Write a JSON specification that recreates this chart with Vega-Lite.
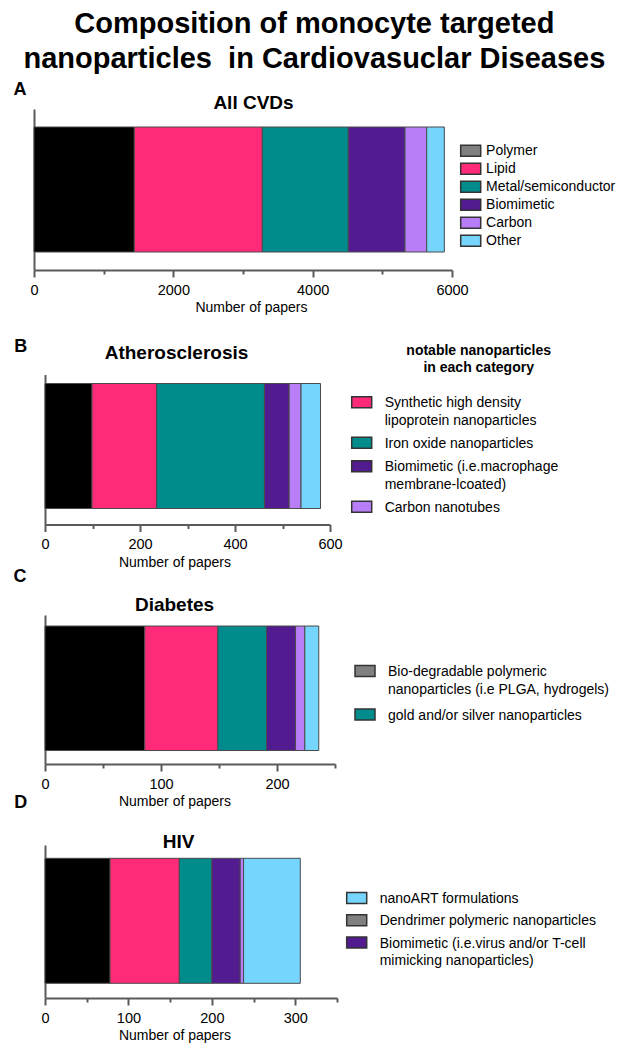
{
  "$schema": "https://vega.github.io/schema/vega-lite/v6.json",
  "padding": {"left": 13, "top": 10, "right": 5, "bottom": 5},
  "title": {
    "text": ["Composition of monocyte targeted", "nanoparticles\u00a0 in Cardiovasuclar Diseases"],
    "fontSize": 29, "fontWeight": "bold", "font": "Liberation Sans", "color": "#000000",
    "lineHeight": 35, "anchor": "middle", "offset": -17, "baseline": "alphabetic"
  },
  "columns": 1,
  "align": "none",
  "spacing": 21.5,
  "resolve": {"scale": {"color": "independent", "x": "independent", "y": "independent"}, "legend": {"color": "independent"}},
  "concat": [
    {
      "width": 418, "height": 161,
      "data": {"values": [
        {"disease": "All CVDs", "category": "Polymer", "papers": 1440, "ord": 1},
        {"disease": "All CVDs", "category": "Lipid", "papers": 1837, "ord": 2},
        {"disease": "All CVDs", "category": "Metal/semiconductor", "papers": 1235, "ord": 3},
        {"disease": "All CVDs", "category": "Biomimetic", "papers": 813, "ord": 4},
        {"disease": "All CVDs", "category": "Carbon", "papers": 312, "ord": 5},
        {"disease": "All CVDs", "category": "Other", "papers": 253, "ord": 6}
      ]},
      "resolve": {"axis": {"x": "independent"}},
      "layer": [
        {
          "mark": {"type": "bar", "stroke": "#4a4a4a", "strokeWidth": 1},
          "encoding": {
            "y": {"field": "disease", "type": "nominal",
                  "scale": {"paddingInner": 0, "paddingOuter": 0.144, "align": 0.5},
                  "axis": {"title": "A", "titleX": -21, "titleY": -15, "offset": 11}},
            "x": {"field": "papers", "type": "quantitative", "stack": "zero",
                  "scale": {"domain": [0, 6000], "nice": false, "range": [-11, 407]},
                  "axis": {"orient": "bottom", "title": "Number of papers",
                           "values": [0, 1000, 2000, 3000, 4000, 5000, 6000],
                           "labelExpr": "datum.value % 2000 === 0 ? format(datum.value, 'd') : ''",
                           "tickSize": {"condition": {"test": "datum.value % 2000 !== 0", "value": 4}, "value": 7},
                           "titleX": 206, "titleY": 41.5}},
            "color": {"condition": {"test": "datum.category === 'Polymer'", "value": "#000000"},
                      "field": "category", "type": "nominal",
                      "scale": {"domain": ["Polymer", "Lipid", "Metal/semiconductor", "Biomimetic", "Carbon", "Other"],
                                "range": ["#808080", "#FF2B79", "#008C8C", "#521B8F", "#B87EF8", "#76D5FC"]},
                      "legend": {"orient": "none", "legendX": 417.7, "legendY": 33.7, "title": null,
                                 "values": ["Polymer", "Lipid", "Metal/semiconductor", "Biomimetic", "Carbon", "Other"],
                                 "symbolType": "M-1.379,-0.759H1.379V0.759H-1.379Z", "symbolSize": 210.25,
                                 "labelOffset": 7.4, "rowPadding": 0}},
            "order": {"field": "ord", "type": "quantitative"}
          }
        },
        {
          "mark": {"type": "rule", "strokeOpacity": 0},
          "encoding": {
            "x": {"datum": 0, "type": "quantitative",
                  "axis": {"orient": "top", "title": "All CVDs", "labels": false, "ticks": false, "domain": false,
                           "titleX": 208, "titleY": -1, "titleFontSize": 19, "titleFontWeight": "bold",
                           "titleBaseline": "alphabetic", "titleAlign": "center"}}
          }
        }
      ]
    },
    {
      "columns": 1,
      "align": "none",
      "spacing": -2.5,
      "resolve": {"scale": {"color": "independent", "x": "independent", "y": "independent"}, "legend": {"color": "independent"}},
      "concat": [
        {
          "width": 285, "height": 150,
          "data": {"values": [
            {"disease": "Atherosclerosis", "category": "Polymer", "papers": 99, "ord": 1},
            {"disease": "Atherosclerosis", "category": "Lipid", "papers": 136, "ord": 2},
            {"disease": "Atherosclerosis", "category": "Metal/semiconductor", "papers": 227, "ord": 3},
            {"disease": "Atherosclerosis", "category": "Biomimetic", "papers": 52, "ord": 4},
            {"disease": "Atherosclerosis", "category": "Carbon", "papers": 25, "ord": 5},
            {"disease": "Atherosclerosis", "category": "Other", "papers": 41, "ord": 6}
          ]},
          "resolve": {"axis": {"x": "independent"}},
          "layer": [
            {
              "mark": {"type": "bar", "stroke": "#4a4a4a", "strokeWidth": 1},
              "encoding": {
                "y": {"field": "disease", "type": "nominal",
                      "scale": {"paddingInner": 0, "paddingOuter": 0.1, "align": 0.36},
                      "axis": {"title": "B", "titleX": -31.3, "titleY": -23.5}},
                "x": {"field": "papers", "type": "quantitative", "stack": "zero",
                      "scale": {"domain": [0, 600], "nice": false},
                      "axis": {"orient": "bottom", "title": "Number of papers",
                               "values": [0, 100, 200, 300, 400, 500, 600],
                               "labelExpr": "datum.value % 200 === 0 ? format(datum.value, 'd') : ''",
                               "tickSize": {"condition": {"test": "datum.value % 200 !== 0", "value": 4}, "value": 7},
                               "titleX": 129.5, "titleY": 41.5}},
                "color": {"condition": {"test": "datum.category === 'Polymer'", "value": "#000000"},
                          "field": "category", "type": "nominal",
                          "scale": {"domain": ["Polymer", "Lipid", "Metal/semiconductor", "Biomimetic", "Carbon", "Other"],
                                    "range": ["#808080", "#FF2B79", "#008C8C", "#521B8F", "#B87EF8", "#76D5FC"]},
                          "legend": {"orient": "none", "legendX": 305.7, "legendY": -30.8,
                                     "title": ["notable nanoparticles", "in each category"],
                                     "titleFontSize": 14, "titleFontWeight": "bold", "titleColor": "#000000",
                                     "titleLineHeight": 17.6, "titleAnchor": "middle", "titleAlign": "center", "titlePadding": 16,
                                     "values": ["Lipid", "Metal/semiconductor", "Biomimetic", "Carbon"],
                                     "labelExpr": "datum.value === 'Lipid' ? ['Synthetic high density', 'lipoprotein nanoparticles'] : datum.value === 'Metal/semiconductor' ? 'Iron oxide nanoparticles' : datum.value === 'Biomimetic' ? ['Biomimetic (i.e.macrophage', 'membrane-lcoated)'] : 'Carbon nanotubes'",
                                     "labelBaseline": "top", "labelOffset": 12, "rowPadding": 3.5,
                                     "encode": {"labels": {"update": {"dy": {"value": -6}, "lineHeight": {"value": 17.5}}},
                                                "title": {"update": {"dx": {"value": 24}}}}}},
                "order": {"field": "ord", "type": "quantitative"}
              }
            },
            {
              "mark": {"type": "rule", "strokeOpacity": 0},
              "encoding": {
                "x": {"datum": 0, "type": "quantitative",
                      "axis": {"orient": "top", "title": "Atherosclerosis", "labels": false, "ticks": false, "domain": false,
                               "titleX": 131, "titleY": -16, "titleFontSize": 19, "titleFontWeight": "bold",
                               "titleBaseline": "alphabetic", "titleAlign": "center"}}
              }
            }
          ]
        },
        {
          "columns": 1,
          "align": "none",
          "spacing": -16,
          "resolve": {"scale": {"color": "independent", "x": "independent", "y": "independent"}, "legend": {"color": "independent"}},
          "concat": [
            {
              "width": 290, "height": 149,
              "data": {"values": [
                {"disease": "Diabetes", "category": "Polymer", "papers": 86, "ord": 1},
                {"disease": "Diabetes", "category": "Lipid", "papers": 63, "ord": 2},
                {"disease": "Diabetes", "category": "Metal/semiconductor", "papers": 42, "ord": 3},
                {"disease": "Diabetes", "category": "Biomimetic", "papers": 25, "ord": 4},
                {"disease": "Diabetes", "category": "Carbon", "papers": 8, "ord": 5},
                {"disease": "Diabetes", "category": "Other", "papers": 12, "ord": 6}
              ]},
              "resolve": {"axis": {"x": "independent"}},
              "layer": [
                {
                  "mark": {"type": "bar", "stroke": "#4a4a4a", "strokeWidth": 1},
                  "encoding": {
                    "y": {"field": "disease", "type": "nominal",
                          "scale": {"paddingInner": 0, "paddingOuter": 0.0984, "align": 0.45},
                          "axis": {"title": "C", "titleX": -32, "titleY": -33.2}},
                    "x": {"field": "papers", "type": "quantitative", "stack": "zero",
                          "scale": {"domain": [0, 250], "nice": false},
                          "axis": {"orient": "bottom", "title": "Number of papers",
                                   "values": [0, 50, 100, 150, 200, 250],
                                   "labelExpr": "datum.value % 100 === 0 ? format(datum.value, 'd') : ''",
                                   "tickSize": {"condition": {"test": "datum.value % 100 !== 0", "value": 4}, "value": 7},
                                   "titleX": 129.5, "titleY": 41.5}},
                    "color": {"condition": {"test": "datum.category === 'Polymer'", "value": "#000000"},
                              "field": "category", "type": "nominal",
                              "scale": {"domain": ["Polymer", "Lipid", "Metal/semiconductor", "Biomimetic", "Carbon", "Other"],
                                        "range": ["#808080", "#FF2B79", "#008C8C", "#521B8F", "#B87EF8", "#76D5FC"]},
                              "legend": {"orient": "none", "legendX": 309, "legendY": 45, "title": null,
                                         "values": ["Polymer", "Metal/semiconductor"],
                                         "labelExpr": "datum.value === 'Polymer' ? ['Bio-degradable polymeric', 'nanoparticles (i.e PLGA, hydrogels)'] : 'gold and/or silver nanoparticles'",
                                         "labelBaseline": "top", "labelOffset": 12, "rowPadding": 6.5,
                                         "encode": {"labels": {"update": {"dy": {"value": -6}, "lineHeight": {"value": 17.5}}}}}},
                    "order": {"field": "ord", "type": "quantitative"}
                  }
                },
                {
                  "mark": {"type": "rule", "strokeOpacity": 0},
                  "encoding": {
                    "x": {"datum": 0, "type": "quantitative",
                          "axis": {"orient": "top", "title": "Diabetes", "labels": false, "ticks": false, "domain": false,
                                   "titleX": 129, "titleY": -5, "titleFontSize": 19, "titleFontWeight": "bold",
                                   "titleBaseline": "alphabetic", "titleAlign": "center"}}
                  }
                }
              ]
            },
            {
              "width": 292, "height": 153,
              "data": {"values": [
                {"disease": "HIV", "category": "Polymer", "papers": 78, "ord": 1},
                {"disease": "HIV", "category": "Lipid", "papers": 83, "ord": 2},
                {"disease": "HIV", "category": "Metal/semiconductor", "papers": 39, "ord": 3},
                {"disease": "HIV", "category": "Biomimetic", "papers": 34, "ord": 4},
                {"disease": "HIV", "category": "Carbon", "papers": 4, "ord": 5},
                {"disease": "HIV", "category": "Other", "papers": 68, "ord": 6}
              ]},
              "resolve": {"axis": {"x": "independent"}},
              "layer": [
                {
                  "mark": {"type": "bar", "stroke": "#4a4a4a", "strokeWidth": 1},
                  "encoding": {
                    "y": {"field": "disease", "type": "nominal",
                          "scale": {"paddingInner": 0, "paddingOuter": 0.112, "align": 0.475},
                          "axis": {"title": "D", "titleX": -31.3, "titleY": -37.5}},
                    "x": {"field": "papers", "type": "quantitative", "stack": "zero",
                          "scale": {"domain": [0, 350], "nice": false},
                          "axis": {"orient": "bottom", "title": "Number of papers",
                                   "values": [0, 50, 100, 150, 200, 250, 300, 350],
                                   "labelExpr": "datum.value % 100 === 0 ? format(datum.value, 'd') : ''",
                                   "tickSize": {"condition": {"test": "datum.value % 100 !== 0", "value": 4}, "value": 7},
                                   "titleX": 129.5, "titleY": 41.5}},
                    "color": {"condition": {"test": "datum.category === 'Polymer'", "value": "#000000"},
                              "field": "category", "type": "nominal",
                              "scale": {"domain": ["Polymer", "Lipid", "Metal/semiconductor", "Biomimetic", "Carbon", "Other"],
                                        "range": ["#808080", "#FF2B79", "#008C8C", "#521B8F", "#B87EF8", "#76D5FC"]},
                              "legend": {"orient": "none", "legendX": 300.7, "legendY": 41.9, "title": null,
                                         "values": ["Other", "Polymer", "Biomimetic"],
                                         "labelExpr": "datum.value === 'Other' ? 'nanoART formulations' : datum.value === 'Polymer' ? 'Dendrimer polymeric nanoparticles' : ['Biomimetic (i.e.virus and/or T-cell', 'mimicking nanoparticles)']",
                                         "labelBaseline": "top", "labelOffset": 12, "rowPadding": 2.3,
                                         "encode": {"labels": {"update": {"dy": {"value": -6}, "lineHeight": {"value": 17.5}}}}}},
                    "order": {"field": "ord", "type": "quantitative"}
                  }
                },
                {
                  "mark": {"type": "rule", "strokeOpacity": 0},
                  "encoding": {
                    "x": {"datum": 0, "type": "quantitative",
                          "axis": {"orient": "top", "title": "HIV", "labels": false, "ticks": false, "domain": false,
                                   "titleX": 133, "titleY": 2, "titleFontSize": 19, "titleFontWeight": "bold",
                                   "titleBaseline": "alphabetic", "titleAlign": "center"}}
                  }
                }
              ]
            }
          ]
        }
      ]
    }
  ],
  "config": {
    "font": "Liberation Sans",
    "view": {"stroke": null},
    "axis": {"grid": false, "labelFont": "Liberation Sans", "titleFont": "Liberation Sans", "titleColor": "#000000", "labelColor": "#000000"},
    "axisX": {"domainColor": "#5a5a5a", "domainWidth": 2, "tickColor": "#5a5a5a", "tickWidth": 2,
              "labelFontSize": 14.5, "labelPadding": 6, "labelFlush": false, "labelOverlap": false,
              "titleFontSize": 14, "titleFontWeight": "normal", "titleBaseline": "alphabetic", "titleAlign": "center", "titleAngle": 0},
    "axisY": {"domainColor": "#5a5a5a", "domainWidth": 2, "labels": false, "ticks": false,
              "titleFontSize": 18, "titleFontWeight": "bold", "titleAngle": 0, "titleAlign": "left", "titleBaseline": "alphabetic"},
    "legend": {"symbolType": "M-1,-0.55H1V0.55H-1Z", "symbolSize": 400, "symbolStrokeColor": "#333333", "symbolStrokeWidth": 1.5,
               "labelFont": "Liberation Sans", "labelFontSize": 14, "labelColor": "#000000", "labelLimit": 400, "padding": 0,
               "titleFont": "Liberation Sans"}
  }
}
